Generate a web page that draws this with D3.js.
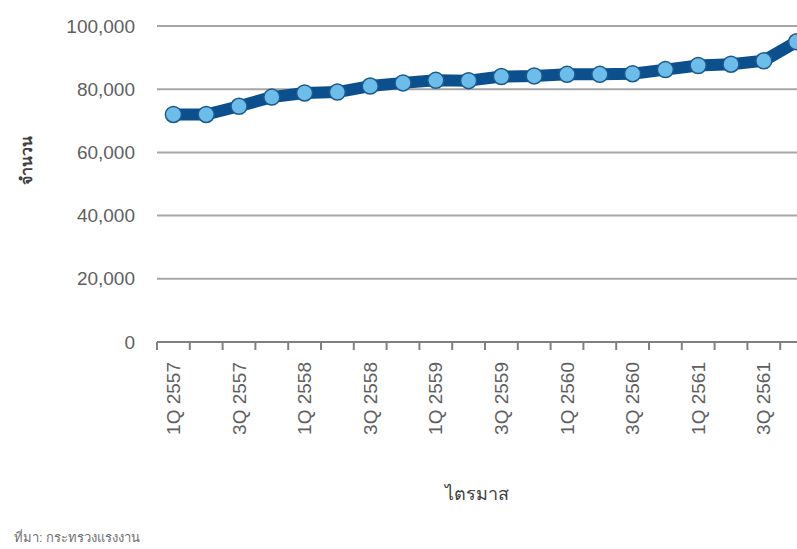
<!DOCTYPE html>
<html><head><meta charset="utf-8">
<script src="https://cdn.jsdelivr.net/npm/d3@7"></script>
<style>
body{margin:0;background:#fff;}
text{font-family:"Liberation Sans",Arial,"Noto Sans","DejaVu Sans",sans-serif;}
</style></head>
<body><svg id="c" width="797" height="549"></svg>
<script>
const categories = ["1Q 2557","2Q 2557","3Q 2557","4Q 2557","1Q 2558","2Q 2558","3Q 2558","4Q 2558","1Q 2559","2Q 2559","3Q 2559","4Q 2559","1Q 2560","2Q 2560","3Q 2560","4Q 2560","1Q 2561","2Q 2561","3Q 2561","4Q 2561"];
const values = [72000,72000,74600,77500,78800,79100,81000,82000,82800,82700,84000,84200,84700,84700,84900,86200,87500,87900,89000,95000];
const yTicks = [0,20000,40000,60000,80000,100000];
const labelCats = categories.filter((c,i)=>i%2===0);

const svg = d3.select("#c");
const x = d3.scaleBand().domain(categories).range([157, 157+20*32.8]);
const y = d3.scaleLinear().domain([0,100000]).range([342,26]);
const fmt = d3.format(",");

// gridlines
svg.append("g").selectAll("line").data(yTicks.filter(d=>d>0)).join("line")
  .attr("x1",157).attr("x2",820).attr("y1",d=>y(d)).attr("y2",d=>y(d))
  .attr("stroke","#a6a6a6").attr("stroke-width",2);

// y axis labels
const ya = svg.append("g").attr("transform","translate(157,0)")
  .call(d3.axisLeft(y).tickValues(yTicks).tickSize(0).tickPadding(22).tickFormat(fmt));
ya.select(".domain").remove();
ya.selectAll("text").attr("font-size",19).attr("fill","#606060").style("font-family","'Liberation Sans',Arial,sans-serif");

// x axis line + ticks
svg.append("line").attr("x1",157).attr("x2",820).attr("y1",y(0)).attr("y2",y(0))
  .attr("stroke","#808080").attr("stroke-width",2);
svg.append("g").selectAll("line").data(categories).join("line")
  .attr("x1",d=>x(d)).attr("x2",d=>x(d)).attr("y1",y(0)).attr("y2",y(0)+8)
  .attr("stroke","#808080").attr("stroke-width",2);

// x labels
const xa = svg.append("g").attr("transform",`translate(0,${y(0)})`)
  .call(d3.axisBottom(x).tickValues(labelCats).tickSize(0).tickPadding(0));
xa.select(".domain").remove();
xa.selectAll("text")
  .attr("transform","rotate(-90)")
  .attr("x",-20).attr("y",0).attr("dy","0.35em")
  .attr("text-anchor","end")
  .attr("font-size",19).attr("fill","#606060")
  .style("font-family","'Liberation Sans',Arial,sans-serif");

// line
const line = d3.line().x((d,i)=>x(categories[i])+x.bandwidth()/2).y(d=>y(d));
svg.append("path").datum(values).attr("d",line)
  .attr("fill","none").attr("stroke","#0b4f8c").attr("stroke-width",12).attr("stroke-linejoin","round");

svg.append("g").selectAll("circle").data(values).join("circle")
  .attr("cx",(d,i)=>x(categories[i])+x.bandwidth()/2).attr("cy",d=>y(d)).attr("r",8)
  .attr("fill","#6cbdea").attr("stroke","#1d5a8c").attr("stroke-width",1.5);

// titles
svg.append("text").attr("transform","translate(26,160) rotate(-90)")
  .attr("text-anchor","middle").attr("dy","0.35em")
  .attr("font-size",16).attr("font-weight","bold").attr("fill","#404040").text("จำนวน");
svg.append("text").attr("x",477).attr("y",500).attr("text-anchor","middle")
  .attr("font-size",18).attr("fill","#404040").text("ไตรมาส");
svg.append("text").attr("x",14).attr("y",542)
  .attr("font-size",13).attr("fill","#707070").text("ที่มา: กระทรวงแรงงาน");
</script></body></html>
